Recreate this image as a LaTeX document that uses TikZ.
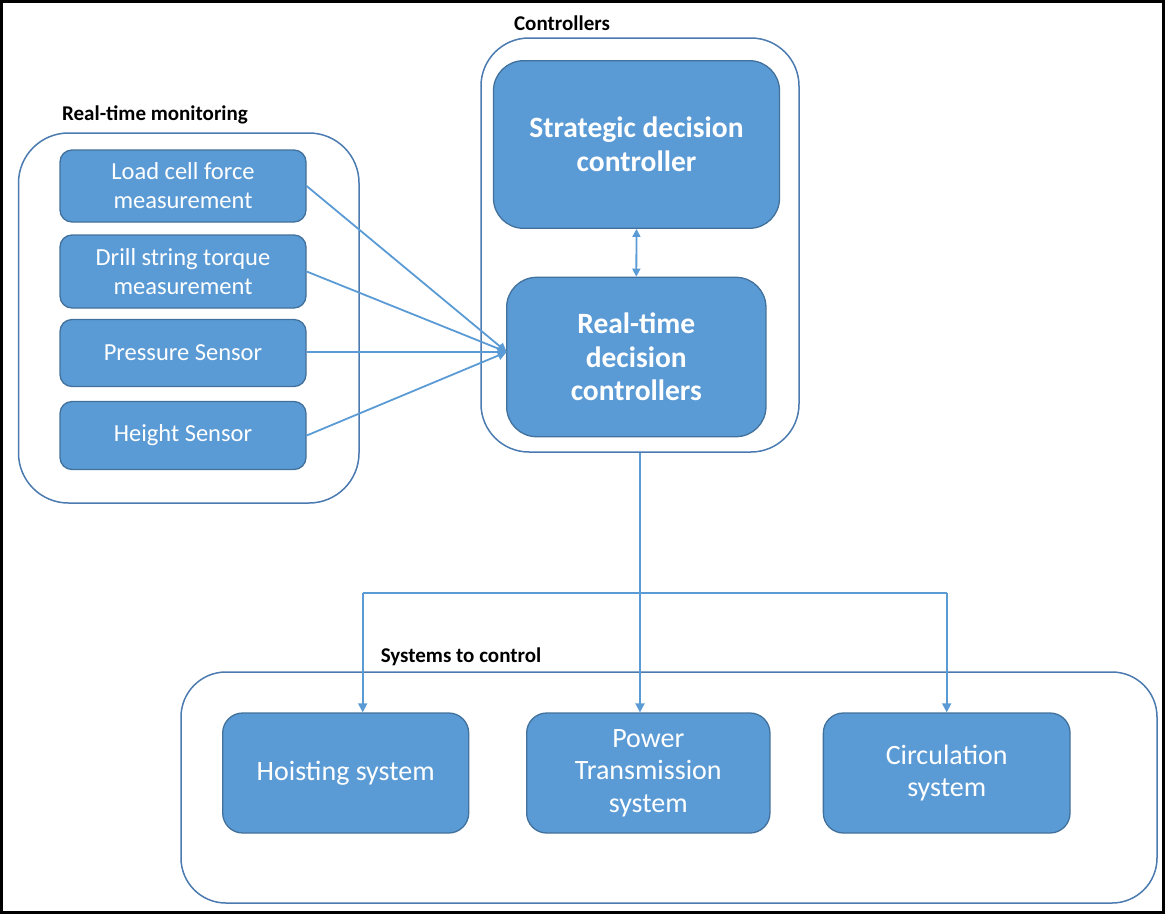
\documentclass[tikz,border=0pt]{standalone}
\usepackage{fontspec}
\setmainfont{Carlito}
\usetikzlibrary{arrows.meta}
\definecolor{boxfill}{HTML}{5B9BD5}
\definecolor{boxline}{HTML}{41719C}
\definecolor{groupline}{HTML}{4A7AB0}
\definecolor{linkblue}{HTML}{5B9BD5}
\begin{document}
\begin{tikzpicture}[x=1pt,y=-1pt,
  box/.style={draw=boxline, fill=boxfill, line width=1.3pt, text=white,
    align=center, inner sep=0pt},
  sensor/.style={box, rounded corners=12pt, minimum width=246pt,
    font=\fontsize{24.5}{29}\selectfont},
  ctrlbox/.style={box, rounded corners=30pt,
    font=\fontsize{29.5}{33.5}\selectfont\bfseries},
  sysbox/.style={box, rounded corners=20pt, minimum height=120pt,
    font=\fontsize{28}{32.5}\selectfont},
  group/.style={draw=groupline, line width=1.5pt, inner sep=0pt},
  grouplabel/.style={font=\fontsize{21}{25}\selectfont\bfseries,
    text=black, inner sep=0pt},
  plainlink/.style={draw=linkblue, line width=1.8pt},
  link/.style={plainlink, -{Triangle[length=9pt,width=9pt]}},
  dlink/.style={plainlink, {Triangle[length=8pt,width=8pt]}-{Triangle[length=8pt,width=8pt]}},
]
\useasboundingbox (0,0) rectangle (1165,914);
% outer frame
\draw[line width=2.5pt] (1.5,1.5) rectangle (1163.5,912.5);

% groups
\node[group, rounded corners=50pt, minimum width=340.5pt, minimum height=370pt]
  (mon) at (188.75,318) {};
\node[grouplabel] (monlbl) at (155,115) {Real-time monitoring};
\node[group, rounded corners=48pt, minimum width=318pt, minimum height=414pt]
  (ctrl) at (640,245) {};
\node[grouplabel] (ctrllbl) at (562,23) {Controllers};
\node[group, rounded corners=45pt, minimum width=976pt, minimum height=231pt]
  (sys) at (669,787.5) {};
\node[grouplabel] (syslbl) at (461,657) {Systems to control};

% sensors
\node[sensor, minimum height=72pt] (lc) at (183,186) {Load cell force\\measurement};
\node[sensor, minimum height=73pt] (ds) at (183,271.5) {Drill string torque\\measurement};
\node[sensor, minimum height=67pt] (ps) at (183,353) {Pressure Sensor};
\node[sensor, minimum height=68pt] (hs) at (183,435.5) {Height Sensor};

% controllers
\node[ctrlbox, minimum width=286pt, minimum height=167.6pt] (strat) at (636.5,144.5)
  {Strategic decision\\controller};
\node[ctrlbox, minimum width=259.3pt, minimum height=159.4pt] (rt) at (636.3,357)
  {Real-time\\decision\\controllers};

% systems
\node[sysbox, minimum width=246pt] (hoist) at (345.7,773) {Hoisting system};
\node[sysbox, minimum width=243.3pt] (power) at (648.3,773) {Power\\Transmission\\system};
\node[sysbox, minimum width=246.7pt] (circ) at (946.7,773) {Circulation\\system};

% sensor inputs
\coordinate (rtin) at (506.7,352);
\draw[link] (lc.east) -- (rtin);
\draw[link] (ds.east) -- (rtin);
\draw[link] (ps.east |- rtin) -- (rtin);
\draw[link] (hs.east) -- (rtin);

% strategic <-> real-time
\draw[dlink] (strat.south) -- (rt.north);

% outputs to the controlled systems
\coordinate (busL) at (362.7,593.3);
\coordinate (busR) at (circ.north |- busL);
\draw[link] (ctrl.south) -- (ctrl.south |- power.north);
\draw[plainlink] (busL) -- (busR);
\draw[link] (busL) -- (busL |- hoist.north);
\draw[link] (busR) -- (circ.north);
\end{tikzpicture}
\end{document}
